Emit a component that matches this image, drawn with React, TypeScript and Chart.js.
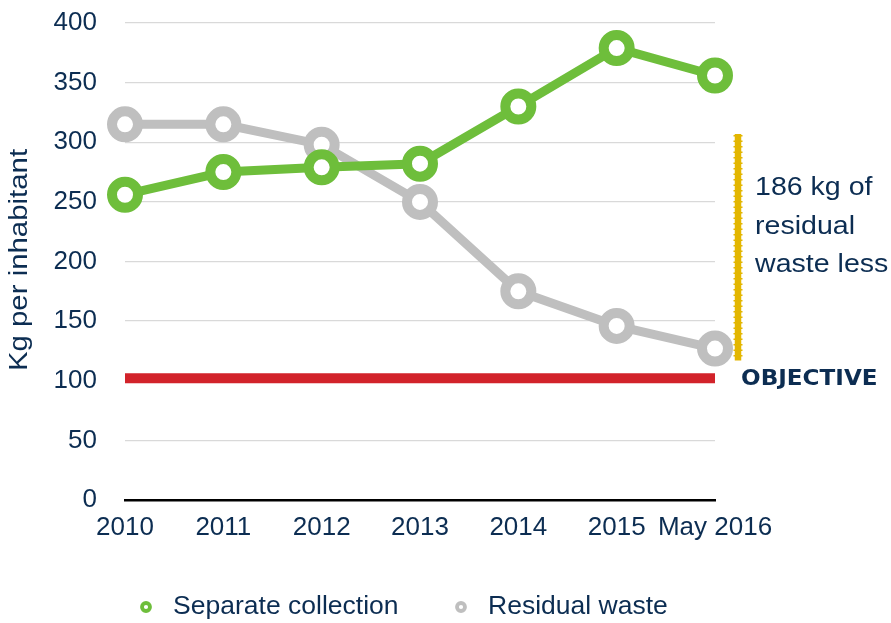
import React, { useEffect, useRef } from "react";
import { Chart, registerables } from "chart.js";

Chart.register(...registerables);

const categories = ["2010", "2011", "2012", "2013", "2014", "2015", "May 2016"];
const separateCollection = [256, 275, 279, 282, 330, 379, 356];
const residualWaste = [315, 315, 298, 250, 175, 146, 127];
const objectiveValue = 102;
const objective = categories.map(() => objectiveValue);
const annotationRange = [307, 117];
const annotationLines = ["186 kg of", "residual", "waste less"];
const objectiveLabel = "OBJECTIVE";
const yTitle = "Kg per inhabitant";
const yMin = 0;
const yMax = 400;
const yStep = 50;

const NAVY = "#0c2d52";
const GREEN = "#6ebe3b";
const GRAY = "#bfbfbf";
const RED = "#d2232a";
const GOLD = "#e3b600";
const FONT = "'Liberation Sans', Arial, Helvetica, sans-serif";

function stretchedText(ctx: any, text: string, x: number, y: number, sx: number) {
  ctx.save();
  ctx.translate(x, y);
  ctx.scale(sx, 1);
  ctx.fillText(text, 0, 0);
  ctx.restore();
}

const extrasPlugin = {
  id: "extras",
  afterDraw(chart: any) {
    const ctx = chart.ctx as any;
    const area = chart.chartArea;
    const y = chart.scales.y;
    ctx.save();
    // y-axis title
    ctx.save();
    ctx.translate(20, 260);
    ctx.rotate(-Math.PI / 2);
    ctx.fillStyle = NAVY;
    ctx.font = `26px ${FONT}`;
    ctx.textAlign = "center";
    ctx.textBaseline = "middle";
    stretchedText(ctx, yTitle, 0, 0, 1.13);
    ctx.restore();

    // yellow bracket line
    const x = area.right + 23;
    const y1 = y.getPixelForValue(annotationRange[0]);
    const y2 = y.getPixelForValue(annotationRange[1]);
    ctx.strokeStyle = GOLD;
    ctx.lineWidth = 6.5;
    ctx.beginPath();
    ctx.moveTo(x, y1);
    ctx.lineTo(x, y2);
    ctx.stroke();
    ctx.lineWidth = 9;
    ctx.setLineDash([1.5, 4]);
    ctx.beginPath();
    ctx.moveTo(x, y1 + 1);
    ctx.lineTo(x, y2);
    ctx.stroke();
    ctx.setLineDash([]);

    // annotation text
    ctx.fillStyle = NAVY;
    ctx.font = `25.5px ${FONT}`;
    ctx.textAlign = "left";
    ctx.textBaseline = "middle";
    annotationLines.forEach((t, i) => {
      stretchedText(ctx, t, area.right + 40, 188 + i * 38.5, 1.12);
    });

    // objective label
    ctx.font = `bold 21px 'DejaVu Sans', Verdana, sans-serif`;
    stretchedText(ctx, objectiveLabel, area.right + 26, y.getPixelForValue(objectiveValue) + 1, 1.1);

    // legend
    const items = [
      { label: chart.data.datasets[0].label, color: GREEN, cx: 146 },
      { label: chart.data.datasets[1].label, color: GRAY, cx: 461 },
    ];
    items.forEach((it) => {
      ctx.beginPath();
      ctx.arc(it.cx, 607, 4, 0, Math.PI * 2);
      ctx.fillStyle = "#fff";
      ctx.fill();
      ctx.lineWidth = 3.8;
      ctx.strokeStyle = it.color;
      ctx.stroke();
      ctx.fillStyle = NAVY;
      ctx.font = `26px ${FONT}`;
      ctx.textAlign = "left";
      ctx.textBaseline = "middle";
      stretchedText(ctx, it.label, it.cx + 27, 607, 1.02);
    });
    ctx.restore();
  },
};

export default function App() {
  const ref = useRef<HTMLCanvasElement | null>(null);
  useEffect(() => {
    if (!ref.current) return;
    const chart = new Chart(ref.current, {
      type: "line",
      data: {
        labels: categories,
        datasets: [
          {
            label: "Separate collection",
            data: separateCollection,
            borderColor: GREEN,
            backgroundColor: GREEN,
            borderWidth: 9,
            pointRadius: 13,
            pointHoverRadius: 13,
            pointBorderWidth: 10,
            pointBorderColor: GREEN,
            pointBackgroundColor: "#fff",
            tension: 0,
            clip: false as any,
          },
          {
            label: "Residual waste",
            data: residualWaste,
            borderColor: GRAY,
            backgroundColor: GRAY,
            borderWidth: 9,
            pointRadius: 13,
            pointHoverRadius: 13,
            pointBorderWidth: 10,
            pointBorderColor: GRAY,
            pointBackgroundColor: "#fff",
            tension: 0,
            clip: false as any,
          },
          {
            label: "Objective",
            data: objective,
            borderColor: RED,
            backgroundColor: RED,
            borderWidth: 10,
            pointRadius: 0,
            borderCapStyle: "butt",
            clip: false as any,
          },
        ],
      },
      options: {
        responsive: false,
        animation: false,
        events: [],
        layout: { padding: { left: 0, right: 176, top: 22, bottom: 0 } },
        plugins: {
          legend: { display: false },
          tooltip: { enabled: false },
          title: { display: false },
        },
        scales: {
          x: {
            offset: false,
            grid: { display: false, drawTicks: false },
            border: { display: true, color: "#000", width: 2.5 },
            ticks: {
              color: NAVY,
              font: { family: FONT, size: 26 },
              padding: 12,
              maxRotation: 0,
              autoSkip: false,
            },
            afterFit: (s: any) => {
              s.height = 123;
              s.paddingLeft = 0;
              s.paddingRight = 0;
            },
          },
          y: {
            min: yMin,
            max: yMax,
            grid: { color: "#d9d9d9", lineWidth: 1.3, drawTicks: false },
            border: { display: false },
            ticks: {
              stepSize: yStep,
              color: NAVY,
              font: { family: FONT, size: 26 },
              padding: 28,
            },
            afterFit: (s: any) => {
              s.width = 125;
              s.paddingTop = 0;
              s.paddingBottom = 0;
            },
          },
        },
      },
      plugins: [extrasPlugin],
    });
    return () => chart.destroy();
  }, []);
  return (
    <div style={{ position: "fixed", left: 0, top: 0, width: 891, height: 623, background: "#fff" }}>
      <canvas ref={ref} width={891} height={623} style={{ width: 891, height: 623 }} />
    </div>
  );
}
